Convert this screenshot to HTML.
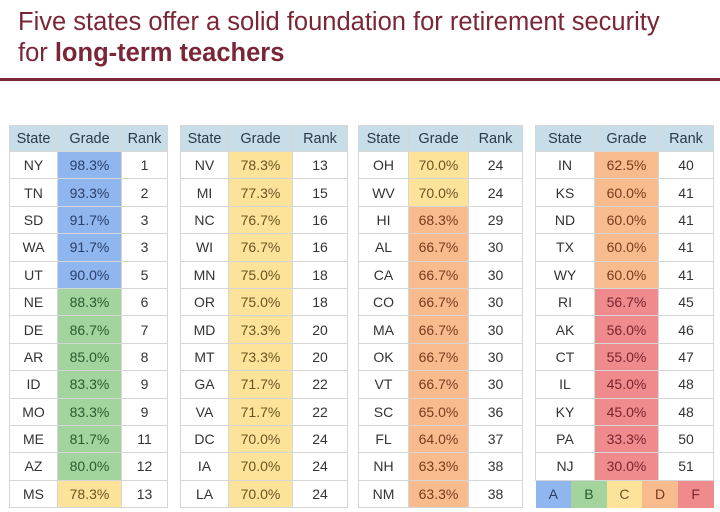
<!DOCTYPE html>
<html><head><meta charset="utf-8"><style>
body{margin:0;width:720px;height:512px;background:#fff;font-family:"Liberation Sans",sans-serif;overflow:hidden;position:relative}
.t1{position:absolute;left:18px;top:7px;font-size:25.5px;color:#7a2636;line-height:31px}
.rule{position:absolute;left:0;top:78px;width:720px;height:3px;background:#7a2636}
table{position:absolute;top:125px;border-collapse:collapse;font-size:14px;color:#333;table-layout:fixed}
td,th{border:1px solid #d6d6d6;text-align:center;padding:0;height:26.4px}
th{background:#c7dde8;font-weight:normal;color:#2a3a44;font-size:14.5px;height:25px}
.a{background:#8fb6ee;color:#2a3f6a}.b{background:#a3d49e;color:#2c5a2c}.c{background:#fde39a;color:#6a5420}.d{background:#f8bb8d;color:#7a3a1e}.f{background:#ef8b8c;color:#7a2230}
.lg td{border:none;font-size:14px}
</style></head><body>
<div class="t1">Five states offer a solid foundation for retirement security<br>for <b>long-term teachers</b></div>
<div class="rule"></div>

<table style="left:9px;width:158px"><colgroup><col style="width:48px"><col style="width:64px"><col style="width:46px"></colgroup>
<tr><th>State</th><th>Grade</th><th>Rank</th></tr>
<tr><td>NY</td><td class="a">98.3%</td><td>1</td></tr>
<tr><td>TN</td><td class="a">93.3%</td><td>2</td></tr>
<tr><td>SD</td><td class="a">91.7%</td><td>3</td></tr>
<tr><td>WA</td><td class="a">91.7%</td><td>3</td></tr>
<tr><td>UT</td><td class="a">90.0%</td><td>5</td></tr>
<tr><td>NE</td><td class="b">88.3%</td><td>6</td></tr>
<tr><td>DE</td><td class="b">86.7%</td><td>7</td></tr>
<tr><td>AR</td><td class="b">85.0%</td><td>8</td></tr>
<tr><td>ID</td><td class="b">83.3%</td><td>9</td></tr>
<tr><td>MO</td><td class="b">83.3%</td><td>9</td></tr>
<tr><td>ME</td><td class="b">81.7%</td><td>11</td></tr>
<tr><td>AZ</td><td class="b">80.0%</td><td>12</td></tr>
<tr><td>MS</td><td class="c">78.3%</td><td>13</td></tr>
</table>

<table style="left:180px;width:167px"><colgroup><col style="width:48px"><col style="width:64px"><col style="width:55px"></colgroup>
<tr><th>State</th><th>Grade</th><th>Rank</th></tr>
<tr><td>NV</td><td class="c">78.3%</td><td>13</td></tr>
<tr><td>MI</td><td class="c">77.3%</td><td>15</td></tr>
<tr><td>NC</td><td class="c">76.7%</td><td>16</td></tr>
<tr><td>WI</td><td class="c">76.7%</td><td>16</td></tr>
<tr><td>MN</td><td class="c">75.0%</td><td>18</td></tr>
<tr><td>OR</td><td class="c">75.0%</td><td>18</td></tr>
<tr><td>MD</td><td class="c">73.3%</td><td>20</td></tr>
<tr><td>MT</td><td class="c">73.3%</td><td>20</td></tr>
<tr><td>GA</td><td class="c">71.7%</td><td>22</td></tr>
<tr><td>VA</td><td class="c">71.7%</td><td>22</td></tr>
<tr><td>DC</td><td class="c">70.0%</td><td>24</td></tr>
<tr><td>IA</td><td class="c">70.0%</td><td>24</td></tr>
<tr><td>LA</td><td class="c">70.0%</td><td>24</td></tr>
</table>

<table style="left:358px;width:164px"><colgroup><col style="width:50px"><col style="width:60px"><col style="width:54px"></colgroup>
<tr><th>State</th><th>Grade</th><th>Rank</th></tr>
<tr><td>OH</td><td class="c">70.0%</td><td>24</td></tr>
<tr><td>WV</td><td class="c">70.0%</td><td>24</td></tr>
<tr><td>HI</td><td class="d">68.3%</td><td>29</td></tr>
<tr><td>AL</td><td class="d">66.7%</td><td>30</td></tr>
<tr><td>CA</td><td class="d">66.7%</td><td>30</td></tr>
<tr><td>CO</td><td class="d">66.7%</td><td>30</td></tr>
<tr><td>MA</td><td class="d">66.7%</td><td>30</td></tr>
<tr><td>OK</td><td class="d">66.7%</td><td>30</td></tr>
<tr><td>VT</td><td class="d">66.7%</td><td>30</td></tr>
<tr><td>SC</td><td class="d">65.0%</td><td>36</td></tr>
<tr><td>FL</td><td class="d">64.0%</td><td>37</td></tr>
<tr><td>NH</td><td class="d">63.3%</td><td>38</td></tr>
<tr><td>NM</td><td class="d">63.3%</td><td>38</td></tr>
</table>

<table style="left:535px;width:178px"><colgroup><col style="width:59px"><col style="width:64px"><col style="width:55px"></colgroup>
<tr><th>State</th><th>Grade</th><th>Rank</th></tr>
<tr><td>IN</td><td class="d">62.5%</td><td>40</td></tr>
<tr><td>KS</td><td class="d">60.0%</td><td>41</td></tr>
<tr><td>ND</td><td class="d">60.0%</td><td>41</td></tr>
<tr><td>TX</td><td class="d">60.0%</td><td>41</td></tr>
<tr><td>WY</td><td class="d">60.0%</td><td>41</td></tr>
<tr><td>RI</td><td class="f">56.7%</td><td>45</td></tr>
<tr><td>AK</td><td class="f">56.0%</td><td>46</td></tr>
<tr><td>CT</td><td class="f">55.0%</td><td>47</td></tr>
<tr><td>IL</td><td class="f">45.0%</td><td>48</td></tr>
<tr><td>KY</td><td class="f">45.0%</td><td>48</td></tr>
<tr><td>PA</td><td class="f">33.3%</td><td>50</td></tr>
<tr><td>NJ</td><td class="f">30.0%</td><td>51</td></tr>
<tr><td colspan="3" style="padding:0;border:none"><table class="lg" style="position:static;width:178px;border-collapse:collapse"><tr>
<td class="a" style="height:27px">A</td><td class="b">B</td><td class="c">C</td><td class="d">D</td><td class="f">F</td></tr></table></td></tr>
</table>
</body></html>
